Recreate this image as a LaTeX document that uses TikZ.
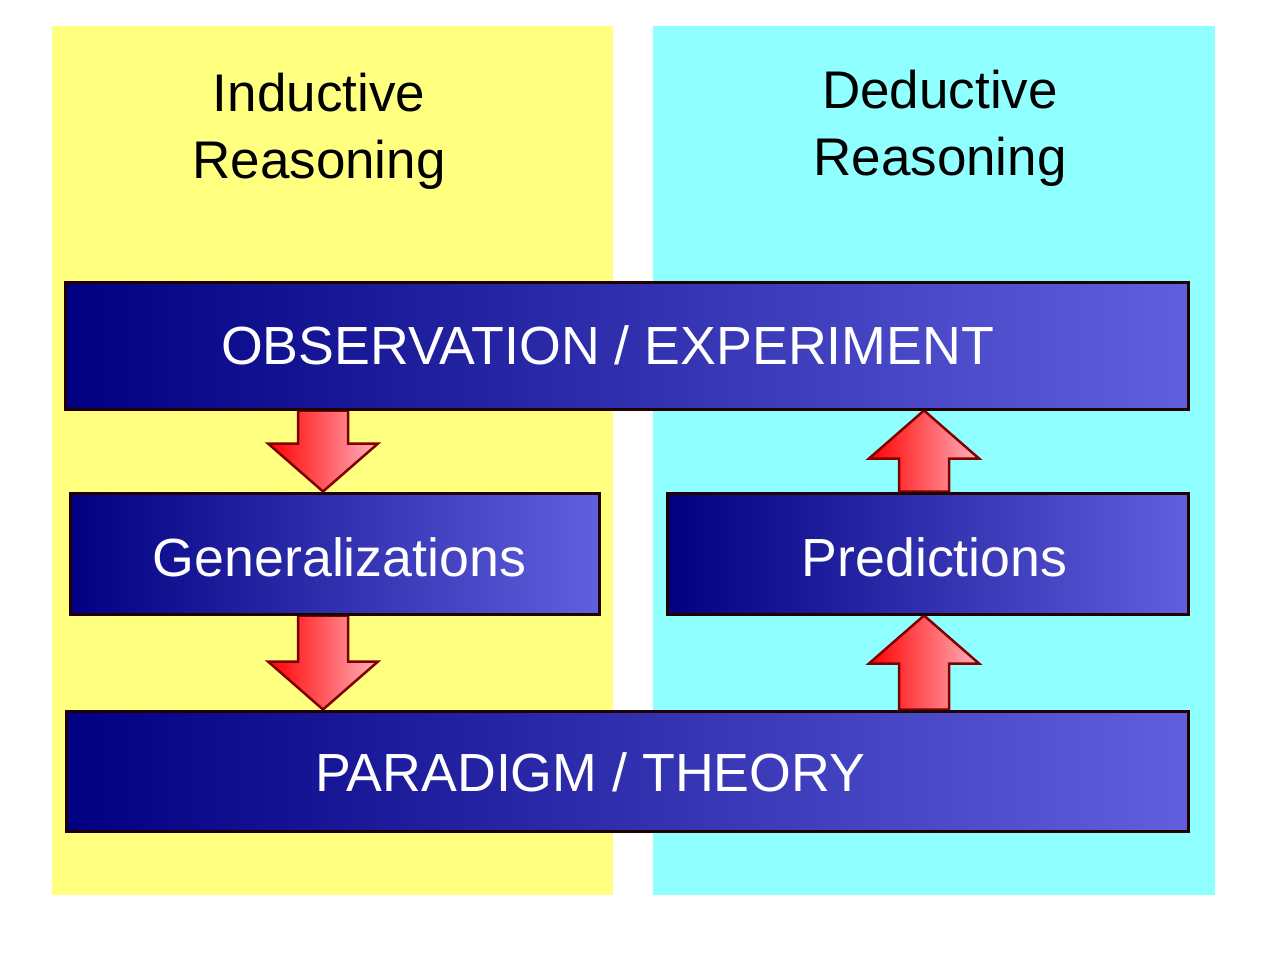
\documentclass[tikz,border=0pt]{standalone}
\usepackage{fontspec}
\setmainfont{Liberation Sans}
\usetikzlibrary{calc,backgrounds}

\definecolor{panelyellow}{RGB}{255,255,128}
\definecolor{panelcyan}{RGB}{144,255,255}
\definecolor{navyleft}{RGB}{0,0,128}
\definecolor{navyright}{RGB}{96,96,222}
\definecolor{boxedge}{RGB}{32,0,0}
\definecolor{arrowedge}{RGB}{128,0,0}
\definecolor{arrowpink}{RGB}{255,178,188}

\tikzset{
  stagebox/.style={draw=boxedge, line width=3pt, left color=navyleft,
    right color=navyright, inner sep=0pt},
  stagetext/.style={text=white, font=\fontsize{53.7}{64}\selectfont,
    text height=38pt, text depth=0pt, inner sep=0pt},
  headtext/.style={font=\fontsize{53}{67}\selectfont, align=center},
  blockarrow/.style={draw=arrowedge, line width=2.5pt, left color=red,
    right color=arrowpink, line join=miter}
}

% block arrow from #1 (foot) to #2 (tip), vertical
\newcommand{\bigarrow}[2]{%
  \draw[blockarrow] let \p1=(#1), \p2=(#2), \n1={48*sign(\y2-\y1)} in
    ({\x1-25pt},\y1) -- ({\x1-25pt},{\y2-(\n1)}) -- ({\x1-55pt},{\y2-(\n1)})
    -- (\x2,\y2) -- ({\x1+55pt},{\y2-(\n1)}) -- ({\x1+25pt},{\y2-(\n1)})
    -- ({\x1+25pt},\y1) -- cycle;}

\begin{document}
\begin{tikzpicture}[x=1pt,y=-1pt]
    \useasboundingbox (0,0) rectangle (1280,960);

    % Stufen
    \node[stagebox, minimum width=1123pt, minimum height=127pt,
      label={[stagetext, xshift=-19pt]center:OBSERVATION / EXPERIMENT}]
      (obs) at (626.5,345.5) {};
    \node[stagebox, minimum width=529pt, minimum height=121pt,
      label={[stagetext, xshift=5pt, yshift=-4pt]center:Generalizations}]
      (gen) at (334.5,553.5) {};
    \node[stagebox, minimum width=521pt, minimum height=121pt,
      label={[stagetext, xshift=7pt, yshift=-4pt]center:Predictions}]
      (pred) at (927.5,553.5) {};
    \node[stagebox, minimum width=1122pt, minimum height=120pt,
      label={[stagetext, xshift=-37pt, yshift=-1pt]center:PARADIGM / THEORY}]
      (theory) at (627,771) {};

    % Ueberschriften
    \node[headtext] (induct) at (319,131) {Inductive\\Reasoning};
    \node[headtext] (deduct) at (940,128) {Deductive\\Reasoning};

    \coordinate (inx) at (323,0);
    \coordinate (dex) at (924,0);

    \begin{scope}[on background layer]
        \fill[white] (0,0) rectangle (1280,960);
        \fill[panelyellow] (52,26) rectangle (613,895);
        \fill[panelcyan] (653,26) rectangle (1215,895);
        % Pfeile
        \bigarrow{inx |- obs.south}{inx |- gen.north}
        \bigarrow{inx |- gen.south}{inx |- theory.north}
        \bigarrow{dex |- pred.north}{dex |- obs.south}
        \bigarrow{dex |- theory.north}{dex |- pred.south}
    \end{scope}
\end{tikzpicture}
\end{document}
